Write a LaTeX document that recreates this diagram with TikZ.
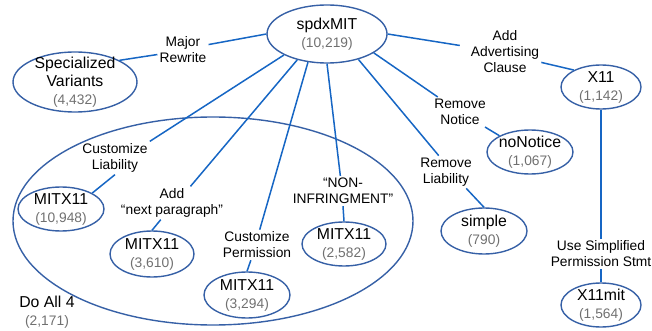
\documentclass[tikz,border=0pt]{standalone}
\usepackage{fontspec}
\setmainfont{Liberation Sans}
\usetikzlibrary{shapes.geometric}
\definecolor{ringblue}{RGB}{54,96,166}
\definecolor{edgeblue}{RGB}{22,102,196}
\definecolor{countgray}{RGB}{112,112,112}
\newcommand{\licount}[1]{{\fontsize{13.8}{18}\selectfont\color{countgray}#1}}

\begin{document}
\begin{tikzpicture}[x=1pt,y=-1pt,
    license/.style ={ellipse, draw=ringblue, line width=1.4pt, inner sep=0pt},
    licname/.style ={align=center, font=\fontsize{15.8}{18}\selectfont, inner sep=0pt},
    edit/.style ={align=center, font=\fontsize{13.8}{16}\selectfont, inner sep=2pt},
    derive/.style ={draw=edgeblue, line width=1.5pt}]
   \useasboundingbox (0,0) rectangle (652,331);
   \node[license, minimum width=400, minimum height=208] (doall) at (213,221) {};
   \node[licname] (doalltext) at (47,312) {Do All 4\\\licount{(2,171)}};
   \node[license, minimum width=120, minimum height=58,
     label={[licname]center:{spdxMIT\\\licount{(10,219)}}}] (spdx) at (327,34) {};
   \node[license, minimum width=124, minimum height=60,
     label={[licname]center:{Specialized\\Variants\\\licount{(4,432)}}}] (sv) at (75,82) {};
   \node[license, minimum width=80, minimum height=44,
     label={[licname]center:{X11\\\licount{(1,142)}}}] (x11) at (601,87) {};
   \node[license, minimum width=86, minimum height=44,
     label={[licname]center:{noNotice\\\licount{(1,067)}}}] (nonotice) at (530,152) {};
   \node[license, minimum width=86, minimum height=46,
     label={[licname]center:{simple\\\licount{(790)}}}] (simple) at (484,231) {};
   \node[license, minimum width=80, minimum height=44,
     label={[licname]center:{X11mit\\\licount{(1,564)}}}] (x11mit) at (601,305) {};
   \node[license, minimum width=86, minimum height=44,
     label={[licname]center:{MITX11\\\licount{(10,948)}}}] (mitA) at (61,209) {};
   \node[license, minimum width=84, minimum height=46,
     label={[licname]center:{MITX11\\\licount{(3,610)}}}] (mitB) at (152,254) {};
   \node[license, minimum width=86, minimum height=46,
     label={[licname]center:{MITX11\\\licount{(3,294)}}}] (mitC) at (247,295) {};
   \node[license, minimum width=84, minimum height=44,
     label={[licname]center:{MITX11\\\licount{(2,582)}}}] (mitD) at (344,244) {};
   \node[edit] (rewrite) at (183,50) {Major\\Rewrite};
   \node[edit] (advert) at (505,52) {Add\\Advertising\\Clause};
   \node[edit] (notice) at (460,112) {Remove\\Notice};
   \node[edit] (liab) at (446,172) {Remove\\Liability};
   \node[edit] (simpl) at (601,254) {Use Simplified\\Permission Stmt};
   \node[edit] (custliab) at (115,158) {Customize\\Liability};
   \node[edit] (nextpar) at (172,203) {Add\\“next paragraph”};
   \node[edit] (custperm) at (257,245) {Customize\\Permission};
   \node[edit] (noninf) at (343,191) {“NON-\\INFRINGMENT”};
   \draw[derive] (sv.26) to (rewrite.190);
   \draw[derive] (rewrite.12) to (spdx.west);
   \draw[derive, shorten >=9pt] (spdx.east) to (advert.172);
   \draw[derive] (advert.-16) to (x11.148);
   \draw[derive] (spdx.338) to (notice.146);
   \draw[derive] (notice.-31) to (nonotice.152);
   \draw[derive] (spdx.321) to (liab.114);
   \draw[derive] (liab.-39) to (simple.north);
   \draw[derive] (x11.south) to (simpl.north);
   \draw[derive] (simpl.south) to (x11mit.north);
   \draw[derive] (spdx.206) to (custliab.north east);
   \draw[derive] (custliab.south) to (mitA.27);
   \draw[derive] (spdx.221) to (nextpar.42);
   \draw[derive] (nextpar.236) to (mitB.north);
   \draw[derive] (spdx.236) to (custperm.80);
   \draw[derive] (custperm.248) to (mitC.north);
   \draw[derive] (spdx.south) to (noninf.100);
   \draw[derive] (noninf.south) to (mitD.north);
 \end{tikzpicture}
\end{document}
